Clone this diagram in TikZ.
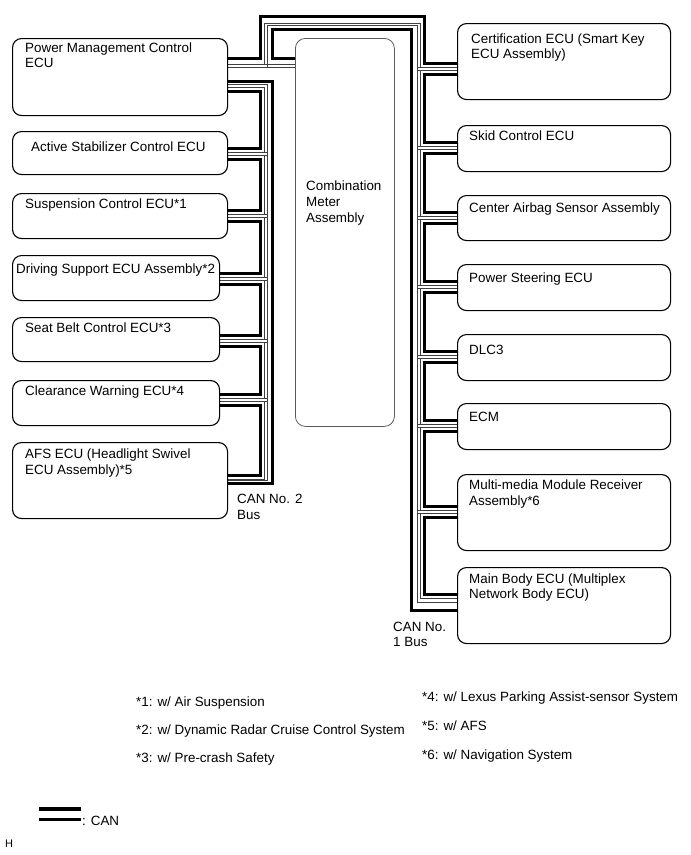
\documentclass[tikz,border=0pt]{standalone}
\usepackage{fontspec}
\setmainfont{Liberation Sans}
\begin{document}
\begin{tikzpicture}[x=1pt,y=-1pt,
  box/.style={draw=black, line width=1.1pt, rounded corners=9pt, anchor=north west, inner sep=0pt},
  cbox/.style={draw=black!65, line width=0.8pt, rounded corners=10pt, anchor=north west, inner sep=0pt},
  wk/.style={line width=3pt, line join=miter},
  wn/.style={line width=0.8pt, draw=black!75},
  txt/.style={anchor=base west, inner sep=0pt, font=\fontsize{13.4}{16}\selectfont},
  small/.style={anchor=base west, inner sep=0pt, font=\fontsize{11}{13}\selectfont}]
\useasboundingbox (0,0) rectangle (691,855);

% ---------- top bus and centre connections ----------
\draw[wk] (227,58) -- (260,58) -- (260,16) -- (424,16) -- (424,63.5) -- (457,63.5);
\draw[wn] (227,64) -- (264,64) -- (264,23) -- (420,23) -- (420,67.5) -- (457,67.5);
\draw[wn] (295,67) -- (267,67) -- (267,25.5) -- (417,25.5) -- (417,602) -- (457,602);
\draw[wk] (295,58) -- (272,58) -- (272,29.5) -- (411,29.5) -- (411,610) -- (457,610);
\draw[wn] (227,67) -- (267,67);
\draw[wn] (264,64) -- (295,64);

% ---------- left trunk (CAN No. 2) ----------
\draw[wk] (227,81) -- (272,81) -- (272,483) -- (227,483);
\draw[wn] (227,84) -- (267,84) -- (267,480) -- (227,480);

% ---------- left daisy chain ----------
\foreach \xa/\ya/\xb/\yb in {227/86/227/154, 227/154/227/216, 227/216/219/279, 219/279/219/341, 219/341/219/400, 219/400/227/480.5}{
  \draw[wk] (\xa,\ya+5.5) -- (260,\ya+5.5) -- (260,\yb-5.5) -- (\xb,\yb-5.5);
  \draw[wn] (\xa,\ya+1.5) -- (264,\ya+1.5) -- (264,\yb-1.5) -- (\xb,\yb-1.5);
}
\foreach \x/\y in {227/154, 227/216, 219/279, 219/341, 219/400}{
  \draw[wn] (\x,\y-1.5) -- (267,\y-1.5);
  \draw[wn] (\x,\y+1.5) -- (267,\y+1.5);
}

% ---------- right daisy chain ----------
\foreach \ya/\yb in {69/148, 148/218, 218/287, 287/357, 357/426, 426/512, 512/599.5}{
  \draw[wk] (457,\ya+5.5) -- (424,\ya+5.5) -- (424,\yb-5.5) -- (457,\yb-5.5);
  \draw[wn] (457,\ya+1.5) -- (420,\ya+1.5) -- (420,\yb-1.5) -- (457,\yb-1.5);
}
\foreach \y in {69, 148, 218, 287, 357, 426, 512}{
  \draw[wn] (417,\y-1.5) -- (457,\y-1.5);
  \draw[wn] (417,\y+1.5) -- (457,\y+1.5);
}

% ---------- boxes ----------
\node[box, minimum width=215pt, minimum height=77pt] (pm)  at (12,38)  {};
\node[box, minimum width=215pt, minimum height=43pt] (as)  at (12,131) {};
\node[box, minimum width=215pt, minimum height=45pt] (sus) at (12,193) {};
\node[box, minimum width=207pt, minimum height=45pt] (ds)  at (12,255) {};
\node[box, minimum width=207pt, minimum height=44pt] (sb)  at (12,317) {};
\node[box, minimum width=207pt, minimum height=45pt] (cw)  at (12,380) {};
\node[box, minimum width=215pt, minimum height=76pt] (afs) at (12,442) {};

\node[cbox, minimum width=99pt, minimum height=388pt] (cm) at (295,38) {};

\node[box, minimum width=213pt, minimum height=76pt] (cert) at (457,23)  {};
\node[box, minimum width=213pt, minimum height=46pt] (skid) at (457,125) {};
\node[box, minimum width=213pt, minimum height=45pt] (air)  at (457,195) {};
\node[box, minimum width=213pt, minimum height=46pt] (ps)   at (457,264) {};
\node[box, minimum width=213pt, minimum height=46pt] (dlc)  at (457,334) {};
\node[box, minimum width=213pt, minimum height=46pt] (ecm)  at (457,403) {};
\node[box, minimum width=213pt, minimum height=76pt] (mm)   at (457,474) {};
\node[box, minimum width=213pt, minimum height=76pt] (mb)   at (457,567) {};

% ---------- box texts ----------
\node[txt] (t1a) at (25,52)   {Power Management Control};
\node[txt] (t1b) at (25,67.5) {ECU};
\node[txt] (t2)  at (31,151)  {Active Stabilizer Control ECU};
\node[txt] (t3)  at (25,208)  {Suspension Control ECU*1};
\node[txt] (t4)  at (16,273)  {Driving Support ECU Assembly*2};
\node[txt] (t5)  at (25,332)  {Seat Belt Control ECU*3};
\node[txt] (t6)  at (25,395)  {Clearance Warning ECU*4};
\node[txt] (t7a) at (25,458)  {AFS ECU (Headlight Swivel};
\node[txt] (t7b) at (25,474)  {ECU Assembly)*5};

\node[txt] (c1) at (306,190) {Combination};
\node[txt] (c2) at (306,206) {Meter};
\node[txt] (c3) at (306,222) {Assembly};

\node[txt] (r1a) at (471,43)  {Certification ECU (Smart Key};
\node[txt] (r1b) at (471,58)  {ECU Assembly)};
\node[txt] (r2)  at (469,140) {Skid Control ECU};
\node[txt] (r3)  at (469,212) {Center Airbag Sensor Assembly};
\node[txt] (r4)  at (469,282) {Power Steering ECU};
\node[txt] (r5)  at (469,354) {DLC3};
\node[txt] (r6)  at (469,421) {ECM};
\node[txt] (r7a) at (469,489) {Multi-media Module Receiver};
\node[txt] (r7b) at (469,505) {Assembly*6};
\node[txt] (r8a) at (469,583) {Main Body ECU (Multiplex};
\node[txt] (r8b) at (469,598) {Network Body ECU)};

% ---------- bus labels ----------
\node[txt] (can2a) at (237,503) {CAN No. 2};
\node[txt] (can2b) at (237,519) {Bus};
\node[txt] (can1a) at (393,631) {CAN No.};
\node[txt] (can1b) at (393,646) {1 Bus};

% ---------- footnotes ----------
\node[txt] (f1) at (136,706) {*1: w/ Air Suspension};
\node[txt] (f2) at (136,734) {*2: w/ Dynamic Radar Cruise Control System};
\node[txt] (f3) at (136,762) {*3: w/ Pre-crash Safety};
\node[txt] (f4) at (422,701) {*4: w/ Lexus Parking Assist-sensor System};
\node[txt] (f5) at (422,730) {*5: w/ AFS};
\node[txt] (f6) at (422,759) {*6: w/ Navigation System};

% ---------- legend ----------
\coordinate (la1) at (39,809);
\coordinate (la2) at (81,809);
\coordinate (lb1) at (39,819.5);
\coordinate (lb2) at (81,819.5);
\draw[line width=3.5pt] (la1) -- (la2);
\draw[line width=3.5pt] (lb1) -- (lb2);
\node[txt] (leg) at (82,825) {: CAN};
\node[small] (hh) at (5,847) {H};
\end{tikzpicture}
\end{document}
